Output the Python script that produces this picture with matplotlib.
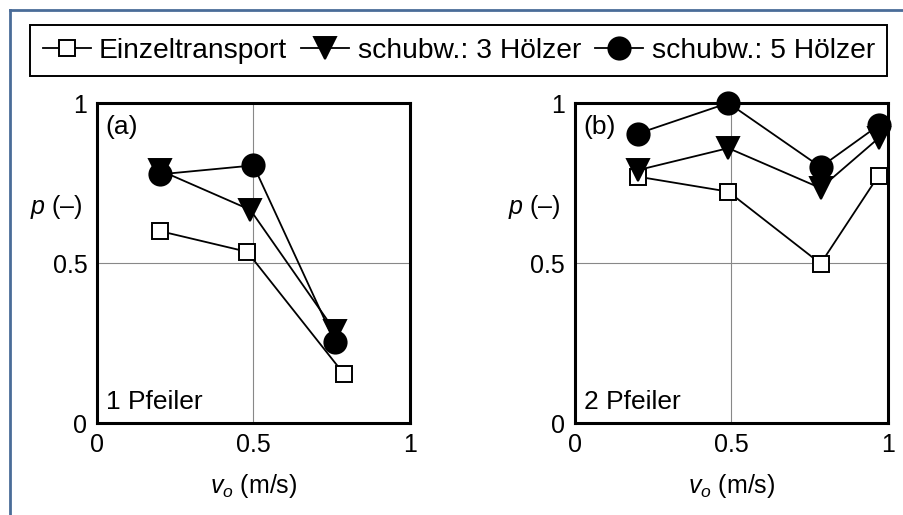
import matplotlib
matplotlib.use("Agg")
import matplotlib.pyplot as plt
from matplotlib.lines import Line2D

plt.rcParams['font.family'] = ['Liberation Sans', 'DejaVu Sans']
plt.rcParams['mathtext.fontset'] = 'custom'
plt.rcParams['mathtext.rm'] = 'Liberation Sans'
plt.rcParams['mathtext.it'] = 'Liberation Sans:italic'

# (a) 1 Pfeiler
x_ein_a = [0.20, 0.48, 0.79]
p_ein_a = [0.60, 0.535, 0.152]
x_s3_a = [0.20, 0.49, 0.76]
p_s3_a = [0.79, 0.666, 0.288]
x_s5_a = [0.20, 0.50, 0.76]
p_s5_a = [0.777, 0.805, 0.254]

# (b) 2 Pfeiler
x_ein_b = [0.20, 0.49, 0.785, 0.97]
p_ein_b = [0.77, 0.723, 0.498, 0.773]
x_s3_b = [0.20, 0.49, 0.785, 0.97]
p_s3_b = [0.79, 0.859, 0.734, 0.89]
x_s5_b = [0.20, 0.49, 0.785, 0.97]
p_s5_b = [0.904, 1.0, 0.80, 0.93]

labels = ['Einzeltransport', 'schubw.: 3 Hölzer', 'schubw.: 5 Hölzer']
ticks = [0, 0.5, 1]
ticklabels = ['0', '0.5', '1']

fig = plt.figure(figsize=(9.04, 5.15), dpi=100)
axa = fig.add_axes([0.1073, 0.1786, 0.3462, 0.6214])
axb = fig.add_axes([0.636, 0.1786, 0.3462, 0.6214])

sty = [dict(marker='s', ms=12, mfc='white'),
       dict(marker='v', ms=16, mfc='black'),
       dict(marker='o', ms=16, mfc='black')]

handles = []
for ax, xs, ps, tag, name in [
        (axa, [x_ein_a, x_s3_a, x_s5_a], [p_ein_a, p_s3_a, p_s5_a], '(a)', '1 Pfeiler'),
        (axb, [x_ein_b, x_s3_b, x_s5_b], [p_ein_b, p_s3_b, p_s5_b], '(b)', '2 Pfeiler')]:
    hh = []
    for i in range(3):
        h, = ax.plot(xs[i], ps[i], color='black', lw=1.3, mec='black', mew=1.4,
                     clip_on=False, zorder=3 + i, **sty[i])
        hh.append(h)
    handles = hh
    ax.set_xlim(0, 1)
    ax.set_ylim(0, 1)
    ax.set_xticks(ticks)
    ax.set_xticklabels(ticklabels)
    ax.set_yticks(ticks)
    ax.set_yticklabels(ticklabels)
    ax.tick_params(length=0, labelsize=18, pad=7)
    ax.grid(True, color='#888888', lw=0.8)
    ax.set_axisbelow(True)
    for s in ax.spines.values():
        s.set_linewidth(2.2)
    ax.text(0.027, 0.925, tag, transform=ax.transAxes, fontsize=19,
            ha='left', va='center')
    ax.text(0.03, 0.065, name, transform=ax.transAxes, fontsize=19,
            ha='left', va='center')
    ax.text(-0.045, 0.675, r'$p$ (–)', transform=ax.transAxes, fontsize=18,
            ha='right', va='center')
    ax.set_xlabel(r'$v_{o}$ (m/s)', fontsize=18, labelpad=11)

leg = fig.legend(handles, labels, loc='upper left', bbox_to_anchor=(30 / 904, 1 - 25 / 515),
                 ncol=3, fontsize=20.3, frameon=True, fancybox=False, framealpha=1,
                 edgecolor='black', handlelength=1.7, handletextpad=0.3,
                 columnspacing=0.5, borderpad=0.45, borderaxespad=0)
leg.get_frame().set_linewidth(1.4)

# scan frame
fig.add_artist(Line2D([10 / 904, 10 / 904], [0, 1 - 10 / 515], color='#4a6c98', lw=2,
                      transform=fig.transFigure))
fig.add_artist(Line2D([10 / 904, 1], [1 - 10 / 515, 1 - 10 / 515], color='#4a6c98', lw=2,
                      transform=fig.transFigure))

fig.savefig('out.png', dpi=100)
